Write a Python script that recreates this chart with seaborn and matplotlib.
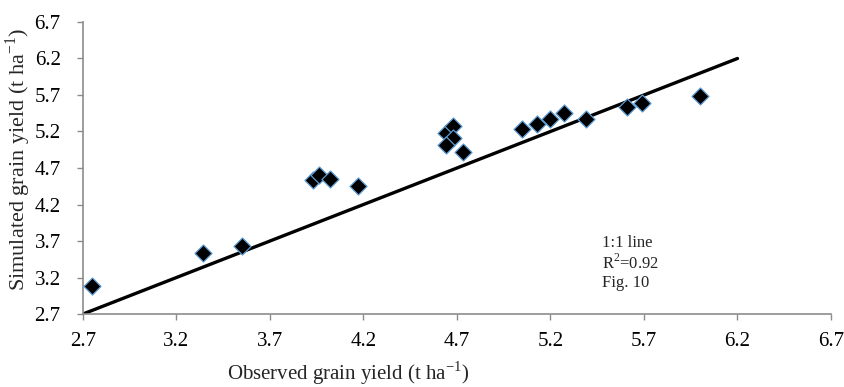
import matplotlib
matplotlib.use("Agg")
import matplotlib.pyplot as plt
import seaborn as sns
import pandas as pd

observed = [2.75, 3.34, 3.55, 3.93, 3.96, 4.02, 4.17, 4.64, 4.68, 4.68, 4.64, 4.73,
            5.05, 5.13, 5.20, 5.27, 5.39, 5.61, 5.69, 6.00]
simulated = [3.08, 3.54, 3.63, 4.54, 4.61, 4.55, 4.45, 5.18, 5.27, 5.11, 5.02, 4.92,
             5.23, 5.30, 5.37, 5.46, 5.37, 5.53, 5.59, 5.69]
line_x = [2.7, 6.2]
line_y = [2.7, 6.2]
ticks = [2.7, 3.2, 3.7, 4.2, 4.7, 5.2, 5.7, 6.2, 6.7]

sns.set_theme(style="white")
plt.rcParams['font.family'] = ['Liberation Serif', 'DejaVu Serif']
plt.rcParams['mathtext.fontset'] = 'custom'
plt.rcParams['mathtext.rm'] = 'Liberation Serif'

fig = plt.figure(figsize=(8.44, 3.87), dpi=100)
ax = fig.add_axes([0.0983, 0.1886, 0.8863, 0.7546])

df = pd.DataFrame({"obs": observed, "sim": simulated})
ldf = pd.DataFrame({"x": line_x, "y": line_y})

sns.lineplot(data=ldf, x="x", y="y", color="black", linewidth=2.4, ax=ax, zorder=2)
sns.scatterplot(data=df, x="obs", y="sim", marker="D", s=75, color="black",
                edgecolor="#5b9bd5", linewidth=0.9, ax=ax, zorder=3)

ax.set_xlim(2.7, 6.7)
ax.set_ylim(2.7, 6.7)
ax.set_xticks(ticks)
ax.set_yticks(ticks)
ax.set_xticklabels([f"{t:.1f}" for t in ticks], fontsize=15)
ax.set_yticklabels([f"{t:.1f}" for t in ticks], fontsize=15)
for s in ["top", "right"]:
    ax.spines[s].set_visible(False)
for s in ["left", "bottom"]:
    ax.spines[s].set_color("#8c8c8c")
    ax.spines[s].set_linewidth(1.2)
ax.tick_params(axis="both", direction="out", length=4, width=1, color="#8c8c8c",
               labelcolor="black", bottom=True, left=True)
ax.tick_params(axis="x", pad=9)
ax.tick_params(axis="y", pad=12)

ax.set_xlabel("")
ax.set_ylabel("Simulated grain yield (t ha$^{-1}$)", fontsize=16)
ax.yaxis.set_label_coords(-0.067, 0.53)
fig.text(0.412, 0.036, "Observed grain yield (t ha$^{-1}$)", fontsize=15, ha="center", va="center")

ax.text(0.7135, 0.3204, "1:1 line\nR$^2$=0.92\nFig. 10", transform=fig.transFigure,
        fontsize=12, ha="left", va="center", linespacing=1.15)

fig.savefig("out.png", dpi=100)
